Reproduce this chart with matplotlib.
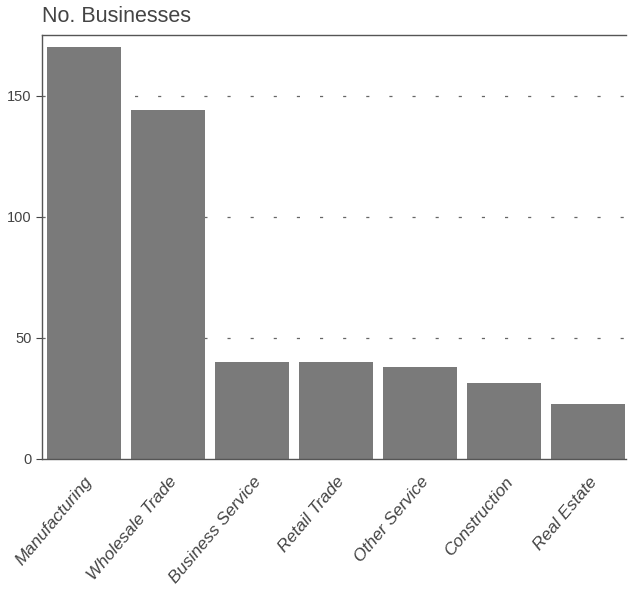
import numpy as np
from matplotlib import pyplot as plt

plt.rcParams['font.family'] = ['Liberation Sans', 'DejaVu Sans']

categories = ['Manufacturing', 'Wholesale Trade', 'Business Service', 'Retail Trade',
              'Other Service', 'Construction', 'Real Estate']
counts = [170, 144, 40, 40, 38, 31.5, 22.5]
yticks = [0, 50, 100, 150]

fig = plt.figure(figsize=(6.28, 5.92), dpi=100)
ax = fig.add_axes([0.067, 0.2247, 0.93, 0.7163])

x = np.arange(len(categories))
ax.bar(x, counts, width=0.88, color='#7a7a7a', zorder=2)

# dashed grid behind the bars
for y in yticks[1:]:
    ax.axhline(y, color='#666666', linestyle=(0, (2.5, 16)), linewidth=0.9, zorder=1)

ax.set_xlim(-0.5, 6.45)
ax.set_ylim(0, 175)
ax.set_yticks(yticks)
ax.set_xticks(x)
ax.set_xticklabels(categories, rotation=50, ha='right', rotation_mode='anchor',
                   fontsize=12.5, color='#444444', style='italic')
ax.tick_params(axis='x', length=0, pad=11)
ax.tick_params(axis='y', length=4, labelsize=10.5, colors='#444444')
ax.spines['right'].set_visible(False)
for s in ['top', 'left', 'bottom']:
    ax.spines[s].set_color('#555555')
    ax.spines[s].set_linewidth(1.0)

fig.text(0.067, 0.955, 'No. Businesses', fontsize=15.5, color='#444444', ha='left', va='bottom')

fig.savefig('out.png', dpi=100)
